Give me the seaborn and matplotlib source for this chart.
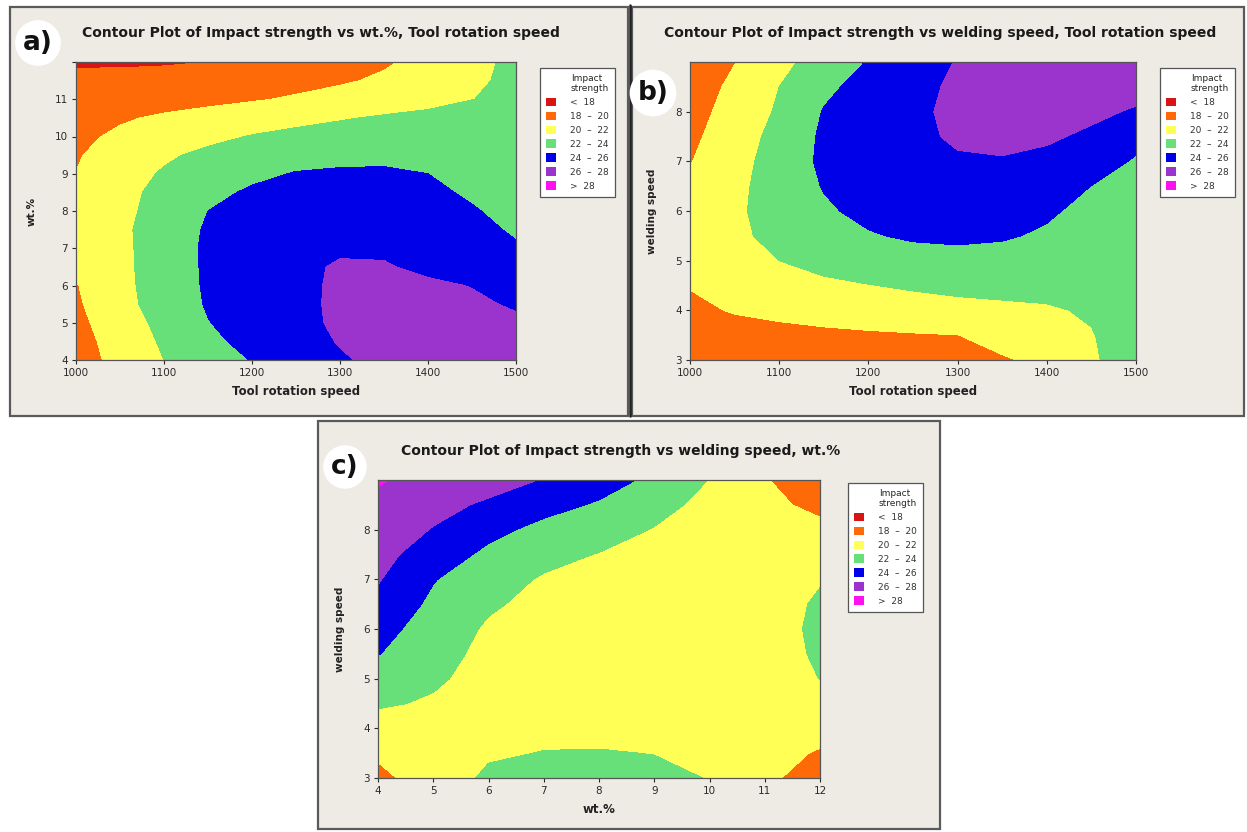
import matplotlib
matplotlib.use("Agg")
import matplotlib.pyplot as plt
from matplotlib.patches import Rectangle, Patch
import numpy as np
import seaborn as sns

# ---- data (impact strength on grids) ----
levels = [0, 18, 20, 22, 24, 26, 28, 40]
level_labels = ["<  18", "18  \u2013  20", "20  \u2013  22", "22  \u2013  24",
                "24  \u2013  26", "26  \u2013  28", ">  28"]
level_colors = ["#d81414", "#ff6a08", "#ffff55", "#68e07a", "#0000e8", "#9a34cc", "#ff10f0"]

# a) wt.% vs tool rotation speed
a_x = [1000, 1050, 1100, 1150, 1200, 1250, 1300, 1350, 1400, 1450, 1500]
a_y = [4, 4.5, 5, 5.5, 6, 6.5, 7, 7.5, 8, 8.5, 9, 9.5, 10, 10.5, 11, 11.5, 12]
a_z = [
    [19.15, 20.57, 22.0, 23.04, 24.07, 24.95, 25.82, 26.4, 26.75, 26.95, 26.95],
    [19.27, 20.79, 22.26, 23.58, 24.54, 25.33, 26.1, 26.55, 26.75, 26.8, 26.7],
    [19.5, 21.06, 22.53, 23.94, 24.77, 25.57, 26.25, 26.5, 26.5, 26.35, 26.15],
    [19.72, 21.4, 22.8, 24.16, 24.94, 25.72, 26.2, 26.35, 26.3, 26.15, 25.9],
    [19.9, 21.45, 22.96, 24.23, 25.0, 25.77, 26.15, 26.25, 26.15, 25.97, 25.35],
    [20.3, 21.5, 23.0, 24.26, 25.0, 25.74, 26.12, 26.08, 25.8, 25.3, 24.75],
    [20.6, 21.55, 22.97, 24.3, 25.0, 25.5, 25.85, 25.85, 25.5, 24.9, 24.17],
    [20.55, 21.6, 22.97, 24.2, 24.8, 25.2, 25.4, 25.35, 25.0, 24.45, 23.8],
    [20.4, 21.47, 22.78, 24.0, 24.5, 24.8, 24.95, 24.9, 24.6, 24.12, 23.55],
    [20.25, 21.4, 22.57, 23.52, 24.25, 24.5, 24.6, 24.55, 24.3, 23.8, 23.25],
    [20.02, 21.15, 22.2, 22.95, 23.6, 24.1, 24.25, 24.25, 24.0, 23.55, 23.0],
    [19.85, 20.8, 21.7, 22.45, 22.95, 23.3, 23.5, 23.6, 23.5, 23.3, 22.95],
    [19.6, 20.3, 20.9, 21.5, 22.1, 22.5, 22.8, 23.0, 23.0, 22.9, 22.75],
    [19.3, 19.8, 20.25, 20.65, 21.05, 21.45, 21.85, 22.2, 22.45, 22.55, 22.5],
    [18.8, 19.05, 19.3, 19.55, 19.85, 20.2, 20.6, 21.0, 21.45, 21.98, 22.3],
    [18.4, 18.55, 18.75, 18.95, 19.2, 19.45, 19.8, 20.25, 20.9, 21.7, 22.4],
    [17.8, 17.75, 17.8, 18.0, 18.35, 18.8, 19.3, 19.8, 20.5, 21.5, 22.4],
]

# b) welding speed vs tool rotation speed
b_x = [1000, 1050, 1100, 1150, 1200, 1250, 1300, 1350, 1400, 1450, 1500]
b_y = [3, 3.5, 4, 4.5, 5, 5.5, 6, 6.5, 7, 7.5, 8, 8.5, 9]
b_z = [
    [18.6, 18.8, 19.0, 19.2, 19.4, 19.6, 19.8, 19.85, 20.35, 21.7, 23.2],
    [19.0, 19.2, 19.4, 19.6, 19.75, 19.87, 19.98, 20.55, 21.2, 21.9, 23.0],
    [19.55, 20.15, 20.5, 20.8, 21.05, 21.3, 21.5, 21.65, 21.8, 22.2, 22.9],
    [20.1, 20.85, 21.4, 21.7, 21.95, 22.2, 22.4, 22.5, 22.55, 22.55, 22.6],
    [20.5, 21.3, 22.0, 22.5, 22.9, 23.2, 23.4, 23.45, 23.35, 23.15, 22.95],
    [20.6, 21.6, 22.55, 23.25, 23.85, 24.25, 24.35, 24.15, 23.8, 23.4, 23.1],
    [20.65, 21.7, 22.75, 23.75, 24.45, 24.85, 25.0, 24.85, 24.2, 23.6, 23.2],
    [20.3, 21.55, 22.85, 24.1, 24.8, 25.25, 25.5, 25.45, 25.0, 23.98, 23.4],
    [19.92, 21.3, 22.85, 24.35, 25.05, 25.5, 25.8, 25.9, 25.65, 24.9, 23.8],
    [19.6, 21.0, 22.65, 24.3, 25.0, 25.6, 26.25, 26.35, 26.2, 25.75, 24.6],
    [19.3, 20.7, 22.25, 24.1, 24.9, 25.65, 26.4, 26.7, 26.6, 26.3, 25.85],
    [19.0, 20.4, 22.0, 23.6, 24.65, 25.5, 26.3, 26.8, 26.95, 26.85, 26.5],
    [18.8, 19.95, 21.45, 22.85, 24.1, 25.1, 26.1, 26.8, 27.15, 27.2, 27.0],
]

# c) welding speed vs wt.%
c_x = [4, 5, 6, 7, 8, 9, 10, 11, 12]
c_y = [3, 3.5, 4, 4.5, 5, 5.5, 6, 6.5, 7, 7.5, 8, 8.5, 9]
c_z = [
    [19.5, 21.0, 22.3, 22.45, 22.5, 22.35, 21.95, 20.4, 19.1],
    [20.3, 21.3, 21.8, 22.05, 22.08, 21.97, 21.6, 20.6, 19.85],
    [21.2, 21.5, 21.5, 21.6, 21.6, 21.5, 21.3, 20.9, 20.6],
    [22.22, 21.8, 21.4, 21.3, 21.25, 21.2, 21.1, 21.1, 21.4],
    [23.16, 22.25, 21.4, 21.1, 21.0, 20.95, 21.0, 21.25, 22.02],
    [24.07, 22.7, 21.5, 21.1, 20.95, 20.9, 20.95, 21.35, 22.2],
    [24.7, 23.1, 21.75, 21.2, 20.95, 20.85, 20.9, 21.4, 22.28],
    [25.49, 23.6, 22.25, 21.45, 21.1, 20.9, 20.85, 21.3, 22.2],
    [26.14, 24.1, 22.85, 21.8, 21.4, 21.1, 20.8, 21.1, 21.9],
    [26.64, 25.0, 23.6, 22.6, 21.92, 21.45, 20.85, 20.9, 21.2],
    [27.15, 25.9, 24.5, 23.5, 22.9, 21.9, 21.0, 20.7, 20.4],
    [27.65, 26.6, 25.7, 24.6, 23.8, 22.7, 21.4, 20.4, 19.6],
    [28.15, 27.3, 26.8, 25.9, 24.8, 23.6, 21.95, 20.1, 19.0],
]

W, H = 1247, 832


def box(x0, y0, x1, y1):
    # pixel box (top-left origin) -> figure fraction rect
    return [x0 / W, 1 - y1 / H, (x1 - x0) / W, (y1 - y0) / H]


sns.set_theme(style="ticks")
plt.rcParams['font.family'] = ['DejaVu Sans']
palette = sns.color_palette(level_colors)

fig = plt.figure(figsize=(W / 100, H / 100), dpi=100)
fig.patch.set_facecolor("white")

panel_bg = "#eeebe5"
for x0, y0, x1, y1 in [(10, 7, 628, 416), (632, 7, 1244, 416), (318, 421, 940, 829)]:
    r = box(x0, y0, x1, y1)
    fig.patches.append(Rectangle((r[0], r[1]), r[2], r[3], transform=fig.transFigure,
                                 facecolor=panel_bg, edgecolor="#5a5a5a", linewidth=1.6,
                                 zorder=-5))

panels = [
    dict(x=a_x, y=a_y, z=a_z, pos=(76, 62, 516, 360), title="Contour Plot of Impact strength vs wt.%, Tool rotation speed",
         xlabel="Tool rotation speed", ylabel="wt.%", xticks=range(1000, 1501, 100), yticks=range(4, 13),
         legend=(535, 63), tag="a)", tagpos=(38, 43), titlex=(76 + 565) / 2, titley=33),
    dict(x=b_x, y=b_y, z=b_z, pos=(690, 62, 1136, 360), title="Contour Plot of Impact strength vs welding speed, Tool rotation speed",
         xlabel="Tool rotation speed", ylabel="welding speed", xticks=range(1000, 1501, 100), yticks=range(3, 9),
         legend=(1155, 63), tag="b)", tagpos=(653, 93), titlex=940, titley=33),
    dict(x=c_x, y=c_y, z=c_z, pos=(378, 480, 820, 778), title="Contour Plot of Impact strength vs welding speed, wt.%",
         xlabel="wt.%", ylabel="welding speed", xticks=range(4, 13), yticks=range(3, 9),
         legend=(843, 478), tag="c)", tagpos=(345, 467), titlex=621, titley=451),
]

handles = [Patch(facecolor=c, edgecolor="none") for c in palette]

for p in panels:
    ax = fig.add_axes(box(*p["pos"]))
    X, Y = np.meshgrid(p["x"], p["y"])
    ax.contourf(X, Y, np.array(p["z"]), levels=levels, colors=palette)
    ax.set_xlim(min(p["x"]), max(p["x"]))
    ax.set_ylim(min(p["y"]), max(p["y"]))
    ax.set_xticks(list(p["xticks"]))
    yt = list(p["yticks"])
    ax.set_yticks(yt)
    if p["tag"] == "a)":
        ax.set_yticklabels([str(v) if v < 12 else "" for v in yt])
    ax.tick_params(labelsize=7.5, length=3, width=0.8, colors="#2a2a2a", pad=3)
    for s in ax.spines.values():
        s.set_color("#555555")
        s.set_linewidth(0.9)
    ax.set_xlabel(p["xlabel"], fontsize=8.5, fontweight="bold", color="#222222", labelpad=5)
    ax.set_ylabel(p["ylabel"], fontsize=7.5, fontweight="bold", color="#222222", labelpad=13)
    fig.text(p["titlex"] / W, 1 - p["titley"] / H, p["title"], ha="center", va="center",
             fontsize=10, fontweight="bold", color="#1a1a1a")
    lx, ly = p["legend"]
    leg = ax.legend(handles, level_labels, title="Impact\nstrength", loc="upper left",
                    bbox_to_anchor=(lx / W, 1 - ly / H), bbox_transform=fig.transFigure,
                    fontsize=6.5, title_fontsize=6.5, handlelength=1.1, handleheight=1.1,
                    labelspacing=0.5, borderpad=0.7, handletextpad=1.6, fancybox=False,
                    framealpha=1, edgecolor="#555555", alignment="right")
    leg.get_frame().set_linewidth(0.9)
    for t in leg.get_texts():
        t.set_color("#333333")
    fig.text(p["tagpos"][0] / W, 1 - p["tagpos"][1] / H, p["tag"], ha="center", va="center",
             fontsize=19, fontweight="bold", color="#111111", zorder=10,
             bbox=dict(boxstyle="circle,pad=0.3", facecolor="white", edgecolor="none"))

# divider between a) and b)
fig.add_artist(plt.Line2D([630 / W, 630 / W], [1 - 416 / H, 1 - 5 / H], color="#222222", linewidth=1.8))

fig.savefig("out.png", dpi=100, facecolor="white")
